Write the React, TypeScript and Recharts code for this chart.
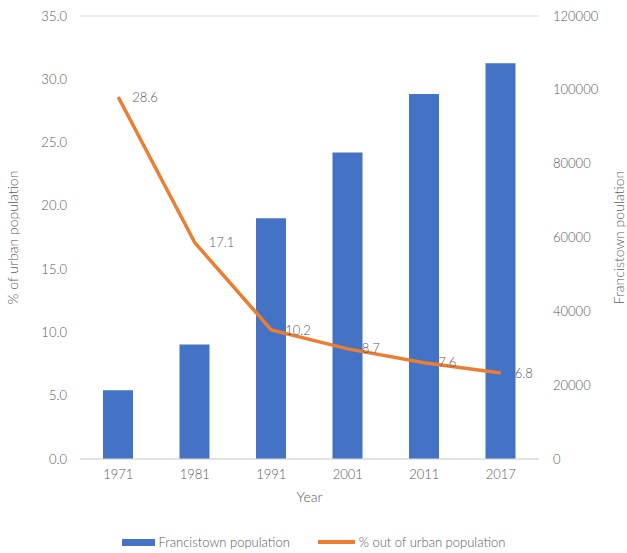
import {
  ComposedChart, Bar, Line, XAxis, YAxis, CartesianGrid, Legend, LabelList,
} from 'recharts'

const years = ['1971', '1981', '1991', '2001', '2011', '2017']
const francistownPopulation = [18600, 31000, 65200, 83000, 98900, 107200]
const urbanShare = [28.6, 17.1, 10.2, 8.7, 7.6, 6.8]
const leftTicks = [0, 5, 10, 15, 20, 25, 30, 35]
const rightTicks = [0, 20000, 40000, 60000, 80000, 100000, 120000]

const FONT = 'Lato, "Open Sans", sans-serif'
const TEXT = '#595959'

const data = years.map((year, i) => ({
  year,
  pop: francistownPopulation[i],
  pct: urbanShare[i],
}))

const tickStyle = { fill: TEXT, fontSize: 13, fontFamily: FONT, fontWeight: 300 }

// legend drawn from the chart's payload, bars listed first
const LegendContent = ({ payload }: { payload?: Array<{ value: string; type: string; color: string }> }) => {
  const items = [...(payload || [])].sort((a, b) => (a.type === 'line' ? 1 : 0) - (b.type === 'line' ? 1 : 0))
  return (
    <div style={{ display: 'flex', justifyContent: 'center', gap: 28, fontFamily: FONT, fontWeight: 300, fontSize: 13, color: TEXT }}>
      {items.map((p) => (
        <div key={p.value} style={{ display: 'flex', alignItems: 'center', gap: 4 }}>
          {p.type === 'line'
            ? <span style={{ display: 'inline-block', width: 37, height: 4, background: p.color }} />
            : <span style={{ display: 'inline-block', width: 33, height: 7, background: p.color }} />}
          <span>{p.value}</span>
        </div>
      ))}
    </div>
  )
}

export default function App() {
  return (
    <div style={{ position: 'absolute', left: 0, top: 0, background: '#fff' }}>
      <ComposedChart
        width={627}
        height={553}
        data={data}
        margin={{ top: 16, right: 0, bottom: 49, left: 0 }}
        style={{ fontFamily: FONT }}
      >
        <CartesianGrid vertical={false} stroke="#d9d9d9" strokeWidth={1} />
        <XAxis
          dataKey="year"
          tickLine={false}
          axisLine={{ stroke: '#d9d9d9' }}
          tick={tickStyle}
          tickMargin={5}
          height={45}
          label={{ value: 'Year', position: 'insideBottom', offset: 2, fill: TEXT, fontSize: 14, fontFamily: FONT, fontWeight: 300 }}
        />
        <YAxis
          yAxisId="left"
          width={80}
          domain={[0, 35]}
          ticks={leftTicks}
          tickFormatter={(v: number) => v.toFixed(1)}
          tickLine={false}
          axisLine={false}
          tick={tickStyle}
          tickMargin={7}
          label={{ value: '% of urban population', angle: -90, position: 'insideLeft', offset: 13, fill: TEXT, fontSize: 14, fontFamily: FONT, fontWeight: 300, style: { textAnchor: 'middle' } }}
        />
        <YAxis
          yAxisId="right"
          orientation="right"
          width={88}
          domain={[0, 120000]}
          ticks={rightTicks}
          tickLine={false}
          axisLine={false}
          tick={tickStyle}
          tickMargin={8}
          label={{ value: 'Francistown poulation', angle: -90, position: 'insideRight', offset: 8, fill: TEXT, fontSize: 14, fontFamily: FONT, fontWeight: 300, style: { textAnchor: 'middle' } }}
        />
        <Legend
          verticalAlign="middle"
          align="center"
          layout="horizontal"
          wrapperStyle={{ top: 534, left: 0, width: 627 }}
          content={<LegendContent />}
        />
        <Bar
          yAxisId="right"
          dataKey="pop"
          name="Francistown population"
          fill="#4472C4"
          barSize={30}
          isAnimationActive={false}
        />
        <Line
          yAxisId="left"
          dataKey="pct"
          name="% out of urban population"
          type="linear"
          stroke="#ED7D31"
          strokeWidth={3.5}
          dot={false}
          legendType="line"
          isAnimationActive={false}
        >
          <LabelList dataKey="pct" position="right" offset={14} fill={TEXT} fontSize={13} fontFamily={FONT} fontWeight={300} />
        </Line>
      </ComposedChart>
    </div>
  )
}
